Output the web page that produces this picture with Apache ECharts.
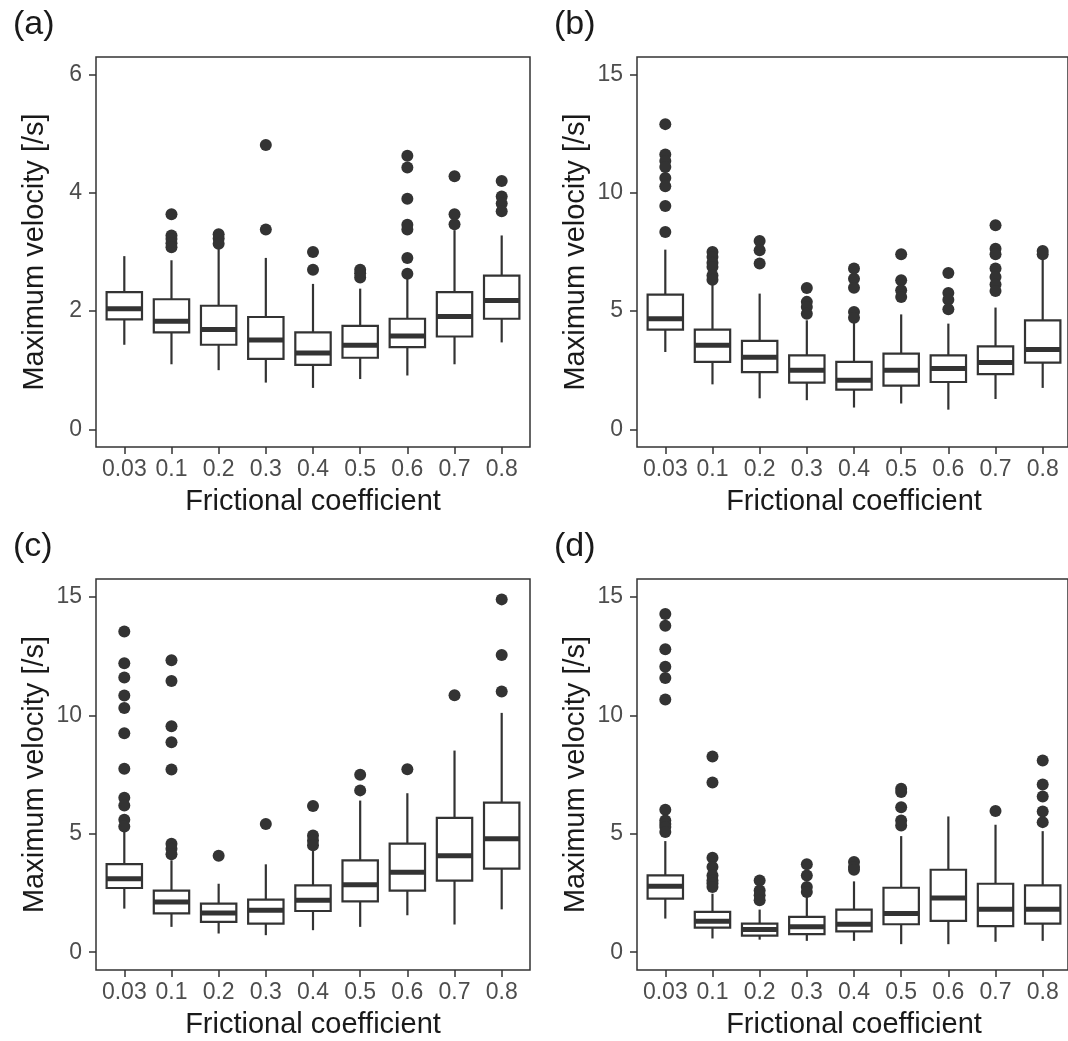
<!DOCTYPE html>
<html>
<head>
<meta charset="utf-8">
<script src="https://cdn.jsdelivr.net/npm/echarts@6/dist/echarts.min.js"></script>
<style>html,body{margin:0;padding:0;background:#fff}#c{width:1068px;height:1041px}</style>
</head>
<body>
<div id="c"></div>
<script>
const categories = ['0.03','0.1','0.2','0.3','0.4','0.5','0.6','0.7','0.8'];
const panelLabels = ['(a)','(b)','(c)','(d)'];
const yTitle = 'Maximum velocity [/s]';
const xTitle = 'Frictional coefficient';
const yTicksA = [0, 2, 4, 6];
const yTicksBCD = [0, 5, 10, 15];

// Panel (a)
const aLow  = [1.43, 1.10, 1.00, 0.79, 0.70, 0.85, 0.91, 1.10, 1.47];
const aQ1   = [1.86, 1.64, 1.43, 1.19, 1.09, 1.21, 1.39, 1.57, 1.87];
const aMed  = [2.04, 1.83, 1.69, 1.51, 1.29, 1.42, 1.58, 1.91, 2.18];
const aQ3   = [2.32, 2.20, 2.09, 1.90, 1.64, 1.75, 1.87, 2.32, 2.60];
const aHigh = [2.93, 2.86, 3.05, 2.90, 2.46, 2.38, 2.58, 3.37, 3.28];
const aOut  = [[], [3.64, 3.28, 3.22, 3.15, 3.08], [3.30, 3.23, 3.14], [4.81, 3.38], [3.00, 2.70],
               [2.70, 2.64, 2.57], [4.63, 4.43, 3.90, 3.46, 3.38, 2.90, 2.63], [4.28, 3.64, 3.47], [4.20, 3.94, 3.82, 3.69]];

// Panel (b)
const bLow  = [3.27, 1.90, 1.31, 1.23, 0.92, 1.09, 0.83, 1.28, 1.75];
const bQ1   = [4.22, 2.85, 2.42, 1.97, 1.68, 1.85, 2.00, 2.33, 2.82];
const bMed  = [4.68, 3.55, 3.05, 2.50, 2.07, 2.50, 2.57, 2.82, 3.37];
const bQ3   = [5.70, 4.22, 3.74, 3.13, 2.85, 3.20, 3.13, 3.51, 4.61];
const bHigh = [7.60, 6.23, 5.74, 4.61, 4.54, 4.86, 4.47, 5.15, 7.29];
const bOut  = [[12.91, 11.63, 11.35, 11.10, 10.63, 10.28, 9.45, 8.35], [7.50, 7.29, 7.05, 6.87, 6.51, 6.33],
               [7.97, 7.57, 7.01], [5.98, 5.39, 5.17, 4.89], [6.80, 6.37, 5.99, 4.96, 4.72],
               [7.40, 6.30, 5.88, 5.60], [6.61, 5.77, 5.48, 5.08], [8.63, 7.64, 7.40, 6.80, 6.44, 6.13, 5.85], [7.54, 7.40]];

// Panel (c)
const cLow  = [1.84, 1.07, 0.79, 0.72, 0.93, 1.07, 1.56, 1.17, 1.81];
const cQ1   = [2.71, 1.64, 1.28, 1.21, 1.74, 2.15, 2.60, 3.02, 3.53];
const cMed  = [3.10, 2.12, 1.66, 1.77, 2.19, 2.85, 3.38, 4.07, 4.79];
const cQ3   = [3.72, 2.60, 2.05, 2.22, 2.82, 3.88, 4.58, 5.67, 6.31];
const cHigh = [5.14, 3.88, 2.89, 3.71, 4.30, 6.40, 6.71, 8.51, 10.10];
const cOut  = [[13.53, 12.19, 11.59, 10.83, 10.31, 9.24, 7.74, 6.52, 6.19, 5.59, 5.31],
               [12.32, 11.45, 9.54, 8.86, 7.71, 4.58, 4.37, 4.13], [4.07], [5.41], [6.17, 4.93, 4.72, 4.51],
               [7.49, 6.83], [7.72], [10.84], [14.89, 12.54, 11.00]];

// Panel (d)
const dLow  = [1.42, 0.58, 0.53, 0.48, 0.48, 0.34, 0.34, 0.44, 0.48];
const dQ1   = [2.26, 1.04, 0.70, 0.76, 0.88, 1.18, 1.32, 1.10, 1.21];
const dMed  = [2.78, 1.31, 0.96, 1.07, 1.18, 1.63, 2.29, 1.81, 1.81];
const dQ3   = [3.24, 1.70, 1.21, 1.49, 1.80, 2.72, 3.48, 2.89, 2.82];
const dHigh = [4.69, 2.47, 1.80, 2.33, 2.99, 4.90, 5.73, 5.38, 5.11];
const dOut  = [[14.27, 13.78, 12.79, 12.05, 11.57, 10.66, 6.01, 5.56, 5.41, 5.28, 5.07],
               [8.26, 7.16, 3.99, 3.60, 3.24, 3.03, 2.90, 2.75], [3.03, 2.61, 2.40, 2.19],
               [3.71, 3.24, 2.75, 2.54], [3.81, 3.60, 3.48], [6.90, 6.76, 6.12, 5.56, 5.35], [], [5.96],
               [8.09, 7.08, 6.57, 5.94, 5.49]];

const panels = [
  {low: aLow, q1: aQ1, med: aMed, q3: aQ3, high: aHigh, out: aOut, ticks: yTicksA},
  {low: bLow, q1: bQ1, med: bMed, q3: bQ3, high: bHigh, out: bOut, ticks: yTicksBCD},
  {low: cLow, q1: cQ1, med: cMed, q3: cQ3, high: cHigh, out: cOut, ticks: yTicksBCD},
  {low: dLow, q1: dQ1, med: dMed, q3: dQ3, high: dHigh, out: dOut, ticks: yTicksBCD}
];

// layout (pixels)
const FONT = '"Liberation Sans", Arial, Helvetica, sans-serif';
const INK = '#333333';
const frames = [
  {left: 96,  top: 57,  width: 434, height: 390},
  {left: 637, top: 57,  width: 434, height: 390},
  {left: 96,  top: 579, width: 434, height: 391},
  {left: 637, top: 579, width: 434, height: 391}
];
const labelPos = [{left: 8, top: 3}, {left: 549, top: 3}, {left: 8, top: 525}, {left: 549, top: 525}];

const grid = [], xAxis = [], yAxis = [], series = [], title = [];
frames.forEach(function (f, i) {
  const p = panels[i];
  const t0 = p.ticks[0], t1 = p.ticks[p.ticks.length - 1];
  const ext = 0.05 * (t1 - t0);          // 5% expansion like ggplot
  const yMin = t0 - ext, yMax = t1 + ext;
  const unit = f.width / 9.2;            // 9 categories + 0.6 expansion each side
  const pad = 0.1 * unit;
  // outer frame grid (carries the y axis)
  grid.push({left: f.left, top: f.top, width: f.width, height: f.height, show: true,
             borderColor: INK, borderWidth: 1.5, backgroundColor: 'transparent'});
  // inner plotting grid (carries the category axis)
  grid.push({left: f.left + pad, top: f.top, width: f.width - 2 * pad, height: f.height});
  const go = 2 * i, gi = 2 * i + 1;
  // outer axes
  xAxis.push({type: 'value', gridIndex: go, show: false, min: 0, max: 1});
  yAxis.push({
    type: 'value', gridIndex: go, min: yMin, max: yMax,
    axisLine: {show: false, onZero: false},
    axisTick: {show: true, length: 7, customValues: p.ticks, lineStyle: {color: INK, width: 1.5}},
    axisLabel: {margin: 14, fontSize: 23, color: '#4d4d4d', fontFamily: FONT, customValues: p.ticks},
    splitLine: {show: false},
    name: yTitle, nameLocation: 'middle', nameGap: 47,
    nameTextStyle: {fontSize: 29, color: '#1a1a1a', fontFamily: FONT}
  });
  // inner axes
  xAxis.push({
    type: 'category', gridIndex: gi, data: categories, position: 'bottom',
    axisLine: {show: false, onZero: false},
    axisTick: {show: true, alignWithLabel: true, length: 7, lineStyle: {color: INK, width: 1.5}},
    axisLabel: {interval: 0, margin: 11, fontSize: 23, color: '#4d4d4d', fontFamily: FONT},
    splitLine: {show: false},
    name: xTitle, nameLocation: 'middle', nameGap: 40,
    nameTextStyle: {fontSize: 29, color: '#1a1a1a', fontFamily: FONT}
  });
  yAxis.push({type: 'value', gridIndex: gi, show: false, min: yMin, max: yMax, splitLine: {show: false}});

  const boxData = categories.map(function (c, k) {
    return [k, p.low[k], p.q1[k], p.med[k], p.q3[k], p.high[k]];
  });
  series.push({
    type: 'custom', xAxisIndex: gi, yAxisIndex: gi, data: boxData,
    encode: {x: 0, y: [1, 2, 3, 4, 5]},
    renderItem: function (params, api) {
      const x = api.value(0);
      const lo = api.coord([x, api.value(1)]);
      const q1 = api.coord([x, api.value(2)]);
      const md = api.coord([x, api.value(3)]);
      const q3 = api.coord([x, api.value(4)]);
      const hi = api.coord([x, api.value(5)]);
      const w = api.size([1, 0])[0] * 0.75;
      const ls = {stroke: INK, lineWidth: 2.2, fill: null};
      return {type: 'group', children: [
        {type: 'line', shape: {x1: hi[0], y1: hi[1], x2: q3[0], y2: q3[1]}, style: ls},
        {type: 'line', shape: {x1: lo[0], y1: lo[1], x2: q1[0], y2: q1[1]}, style: ls},
        {type: 'rect', shape: {x: q3[0] - w / 2, y: q3[1], width: w, height: q1[1] - q3[1]},
         style: {stroke: INK, lineWidth: 2.2, fill: '#ffffff'}},
        {type: 'line', shape: {x1: md[0] - w / 2, y1: md[1], x2: md[0] + w / 2, y2: md[1]},
         style: {stroke: INK, lineWidth: 5}}
      ]};
    },
    z: 2
  });
  const outData = [];
  p.out.forEach(function (arr, k) { arr.forEach(function (v) { outData.push([k, v]); }); });
  series.push({
    type: 'scatter', xAxisIndex: gi, yAxisIndex: gi, data: outData,
    symbol: 'circle', symbolSize: 12,
    itemStyle: {color: INK, opacity: 1}, clip: false, z: 3
  });
  title.push({text: panelLabels[i], left: labelPos[i].left, top: labelPos[i].top,
              textStyle: {fontSize: 34, fontWeight: 'normal', color: '#1a1a1a', fontFamily: FONT}});
});

const chart = echarts.init(document.getElementById('c'), null, {renderer: 'canvas'});
chart.setOption({
  animation: false,
  backgroundColor: '#ffffff',
  title: title,
  grid: grid,
  xAxis: xAxis,
  yAxis: yAxis,
  series: series
});
</script>
</body>
</html>
